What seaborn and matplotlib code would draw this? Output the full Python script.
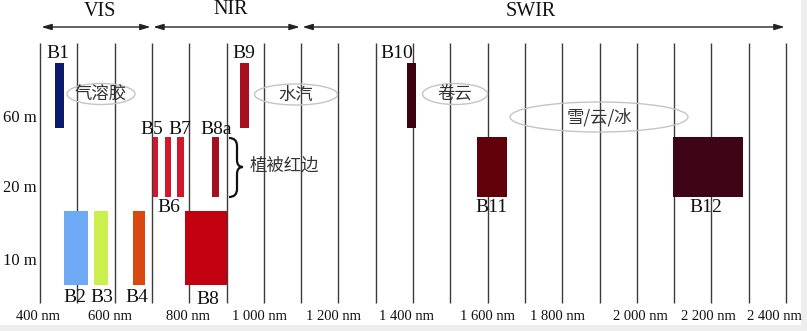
import matplotlib
matplotlib.use("Agg")
import matplotlib.pyplot as plt
import seaborn as sns
import numpy as np
from matplotlib.patches import Ellipse, Rectangle, PathPatch
from matplotlib.path import Path

# ---------------- data ----------------
bands = ["B1", "B2", "B3", "B4", "B5", "B6", "B7", "B8", "B8a", "B9", "B10", "B11", "B12"]
wl_start = [440, 464, 545, 650, 703, 735, 767, 789, 861, 937, 1384, 1571, 2097]
wl_end = [464, 529, 582, 681, 716, 751, 786, 901, 880, 961, 1408, 1652, 2285]
resolution = [60, 10, 10, 10, 20, 20, 20, 10, 20, 60, 60, 20, 20]
band_colors = ["#0d1a6b", "#6ea9f5", "#cbef4e", "#d9480e", "#d2182b", "#d2182b", "#d2182b",
               "#c2000f", "#a3101f", "#a80f1f", "#3d0212", "#62000a", "#3d0515"]
res_labels = ["60 m", "20 m", "10 m"]
grid_wl = list(range(400, 2401, 100))
tick_wl = list(range(400, 2401, 200))
tick_labels = ["400 nm", "600 nm", "800 nm", "1 000 nm", "1 200 nm", "1 400 nm",
               "1 600 nm", "1 800 nm", "2 000 nm", "2 200 nm", "2 400 nm"]
regions = ["VIS", "NIR", "SWIR"]
region_bounds = [(400, 700), (700, 1100), (1100, 2400)]
features = ["气溶胶", "水汽", "卷云", "雪/云/冰"]
red_edge_label = "植被红边"

# ---------------- layout helpers ----------------
W, H = 807, 331
PX_PER_NM = 0.373
X0_PX = 40.0  # pixel of 400 nm


def nm(px):
    return 400 + (px - X0_PX) / PX_PER_NM


res_rows = {60: (63, 128), 20: (137, 197), 10: (211, 285)}
res_label_y = {"60 m": 118, "20 m": 188, "10 m": 261}
label_pos = {"B1": (58, 54), "B2": (75, 298), "B3": (102, 298), "B4": (137, 298),
             "B5": (152, 130), "B6": (169, 208), "B7": (180, 130), "B8": (208, 300),
             "B8a": (216, 130), "B9": (244, 54), "B10": (397, 54), "B11": (491, 208),
             "B12": (706, 208)}
tick_label_px = [38, 110, 188, 260, 333, 406, 487, 558, 640, 708, 774]

sns.set_theme(style="white")
serif = ["Liberation Serif", "DejaVu Serif"]
cjk = ["Noto Sans CJK SC", "DejaVu Sans"]

fig = plt.figure(figsize=(W / 100, H / 100), dpi=100)
fig.patch.set_facecolor("#eeeeee")
ax = fig.add_axes([0, 0, 1, 1])
ax.set_xlim(nm(0), nm(W))
ax.set_ylim(H, 0)
ax.axis("off")
ax.set_facecolor("none")

# white drawing area
ax.add_patch(Rectangle((nm(0), 0), nm(801) - nm(0), 325, facecolor="white",
                       edgecolor="none", zorder=0))

# vertical grid lines
ax.vlines(grid_wl, 43, 303, colors="#3c3c3c", linewidth=1.0, zorder=1)

# bars
for b, s, e, r, c in zip(bands, wl_start, wl_end, resolution, band_colors):
    top, bot = res_rows[r]
    ax.bar(s, bot - top, width=e - s, bottom=top, align="edge", color=c,
           edgecolor="none", linewidth=0, zorder=3)
    lx, ly = label_pos[b]
    ax.text(nm(lx), ly, b, ha="center", va="center", fontsize=14,
            family=serif, color="#111111", zorder=5)

# resolution labels
for lab in res_labels:
    ax.text(nm(37), res_label_y[lab], lab, ha="right", va="center", fontsize=12,
            family=serif, color="#111111")

# tick labels
for px, lab in zip(tick_label_px, tick_labels):
    ax.text(nm(px), 317, lab, ha="center", va="center", fontsize=10.5,
            family=serif, color="#111111")

# region arrows + names
region_label_px = [(100, 11), (231, 10), (531, 12)]
for (a, b), name, (tx, ty) in zip(region_bounds, regions, region_label_px):
    ax.annotate("", xy=(a, 27), xytext=(b, 27),
                arrowprops=dict(arrowstyle="<|-|>,head_length=0.5,head_width=0.15",
                                color="#222222", lw=1.0, shrinkA=1, shrinkB=1))
    ax.text(nm(tx), ty, name, ha="center", va="center", fontsize=14.5,
            family=serif, color="#111111")

# feature ellipses
ell_specs = [(101, 94, 68, 21), (296, 94.5, 83, 21), (455, 94, 65, 21), (599, 117, 178, 30)]
for (cx, cy, w, h), txt in zip(ell_specs, features):
    ax.add_patch(Ellipse((nm(cx), cy), w / PX_PER_NM, h, facecolor="none",
                         edgecolor="#c4c4c4", linewidth=1.0, zorder=2))
    ax.text(nm(cx), cy, txt, ha="center", va="center", fontsize=12.5,
            family=cjk, color="#333333", zorder=4)

# red-edge brace
bp = [(229, 138), (237, 138), (237, 146), (237, 160), (237, 167), (243, 167),
      (237, 167), (237, 174), (237, 189), (237, 197), (229, 197)]
codes = [Path.MOVETO, Path.CURVE3, Path.CURVE3, Path.LINETO, Path.CURVE3, Path.CURVE3,
         Path.CURVE3, Path.CURVE3, Path.LINETO, Path.CURVE3, Path.CURVE3]
verts = [(nm(x), y) for x, y in bp]
ax.add_patch(PathPatch(Path(verts, codes), facecolor="none", edgecolor="#111111",
                       linewidth=1.6, zorder=4))
ax.text(nm(250), 166, red_edge_label, ha="left", va="center", fontsize=12.5,
        family=cjk, color="#333333")

fig.savefig("out.png", dpi=100, facecolor=fig.get_facecolor())
